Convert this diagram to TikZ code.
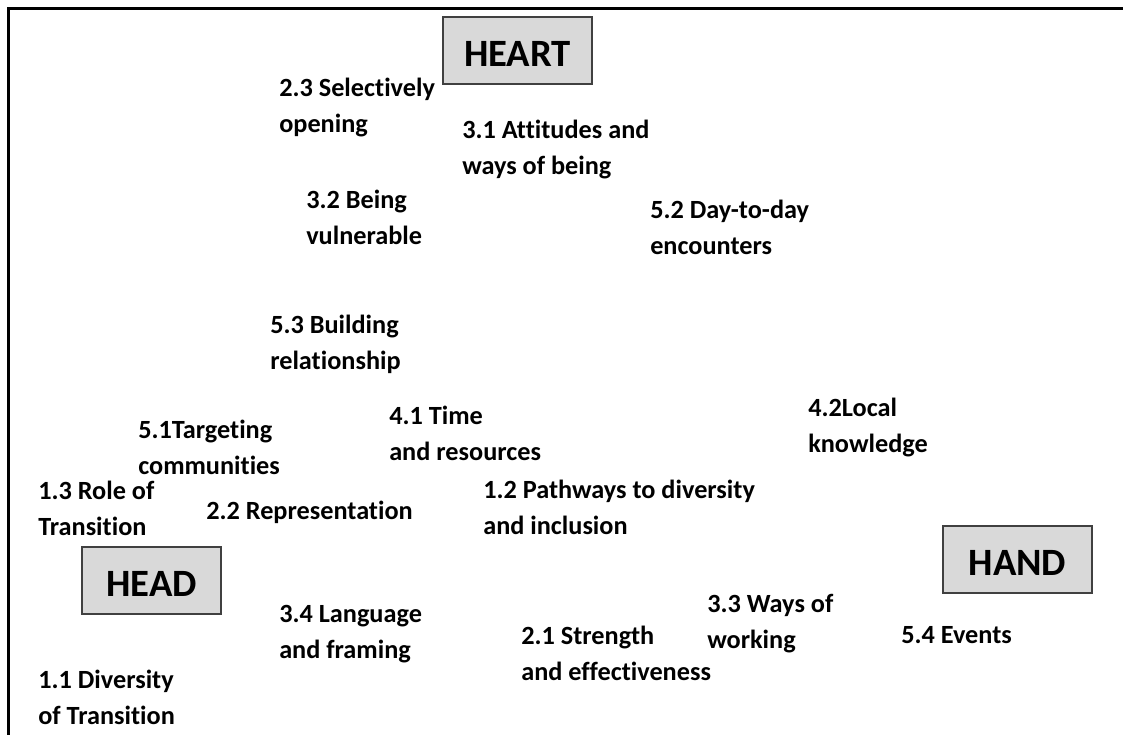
\documentclass[tikz,border=0pt]{standalone}
\usepackage{fontspec}
\setmainfont{Carlito}[RawFeature={-liga}]
\begin{document}
\begin{tikzpicture}[x=0.75pt,y=-0.75pt,
  lbl/.style={anchor=base west,align=left,inner sep=0pt,
    font=\bfseries\fontsize{19.7pt}{27pt}\selectfont},
  cat/.style={draw=black!75,line width=1.1pt,fill=black!15,inner sep=0pt,
    minimum height=50.25pt,text height=24pt,text depth=0pt,
    font=\bfseries\fontsize{29pt}{34pt}\selectfont},
  frame/.style={line width=2.2pt,black}]
\useasboundingbox (0,0) rectangle (1123,735);
\coordinate (tl) at (8.5,8.5);
\coordinate (tr) at (1123,8.5);
\coordinate (bl) at (8.5,735);
\draw[frame] (tr) -- (tl) -- (bl);
% category boxes
\node[cat,minimum width=111.75pt] (heart) at (517.5,50.5) {HEART};
\node[cat,minimum width=104.25pt] (head) at (151.5,580.5) {HEAD};
\node[cat,minimum width=111.75pt] (hand) at (1017.5,559.5) {HAND};
% labels (anchor = baseline of last line)
\node[lbl] (l23) at (279,132) {2.3 Selectively\\opening};
\node[lbl] (l31) at (462,174) {3.1 Attitudes and\\ways of being};
\node[lbl] (l32) at (306,244) {3.2 Being\\vulnerable};
\node[lbl] (l52) at (650,254) {5.2 Day-to-day\\encounters};
\node[lbl] (l53) at (270,369) {5.3 Building\\relationship};
\node[lbl] (l41) at (389,460) {4.1 Time\\and resources};
\node[lbl] (l51) at (138,474) {5.1Targeting\\communities};
\node[lbl] (l42) at (808,452) {4.2Local\\knowledge};
\node[lbl] (l13) at (38,535) {1.3 Role of\\Transition};
\node[lbl] (l22) at (206,519) {2.2 Representation};
\node[lbl] (l12) at (483,534) {1.2 Pathways to diversity\\and inclusion};
\node[lbl] (l34) at (279,658) {3.4 Language\\and framing};
\node[lbl] (l33) at (707,648) {3.3 Ways of\\working};
\node[lbl] (l21) at (521,680) {2.1 Strength\\and effectiveness};
\node[lbl] (l54) at (901,643) {5.4 Events};
\node[lbl] (l11) at (38,724) {1.1 Diversity\\of Transition};
\end{tikzpicture}
\end{document}
